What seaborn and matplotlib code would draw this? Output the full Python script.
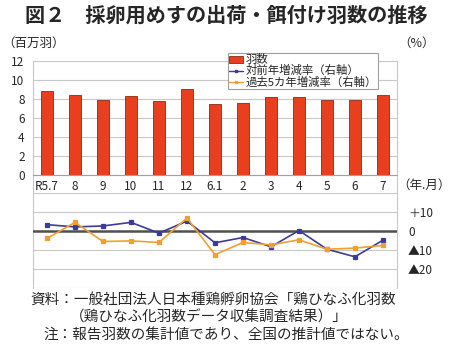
import seaborn as sns
import matplotlib.pyplot as plt
from matplotlib.lines import Line2D
from matplotlib.patches import Patch
import pandas as pd
import numpy as np

# データ
months = ["R5.7", "8", "9", "10", "11", "12", "6.1", "2", "3", "4", "5", "6", "7"]
birds = [8.85, 8.4, 7.9, 8.35, 7.8, 9.0, 7.45, 7.55, 8.2, 8.15, 7.9, 7.9, 8.4]
yoy = [3.5, 2.3, 2.8, 4.7, -1.0, 5.4, -6.1, -3.3, -8.2, 0.4, -9.5, -13.5, -4.7]
avg5 = [-3.8, 4.7, -5.4, -5.1, -5.9, 7.0, -12.4, -5.9, -7.2, -4.5, -9.5, -8.9, -7.5]

sns.set_style("white")
plt.rcParams["font.family"] = ["Noto Sans CJK JP", "DejaVu Sans"]

bar_c = "#E8401E"
blue_c = "#3C3C96"
orange_c = "#F0A030"
grid_c = "#C8C8C8"

df = pd.DataFrame({"month": months, "birds": birds, "yoy": yoy, "avg5": avg5})

fig = plt.figure(figsize=(4.5, 3.58), dpi=100)
ax = fig.add_axes([0.0733, 0.1955, 0.8089, 0.634])

sns.barplot(data=df, x="month", y="birds", color=bar_c, width=0.43,
            edgecolor="#8B2A1A", linewidth=0.6, saturation=1, ax=ax, zorder=2)
ax.set_ylim(-12, 12)
ax.set_yticks(range(-12, 13, 2))
ax.set_yticklabels([str(v) if v >= 0 else "" for v in range(-12, 13, 2)], fontsize=8.5)
ax.tick_params(axis="y", length=0, pad=6)
ax.grid(axis="y", color=grid_c, lw=0.8, zorder=0)
ax.set_axisbelow(True)
ax.set_xlabel("")
ax.set_ylabel("")

# カテゴリ軸を 0 の位置へ
ax.spines["bottom"].set_position(("data", 0))
ax.spines["bottom"].set_color("#A0A0A0")
for s in ["left", "right", "top"]:
    ax.spines[s].set_color(grid_c)
ax.tick_params(axis="x", length=0, pad=4, labelsize=8.5)
ax.set_xticks(np.arange(-0.5, len(months), 1), minor=True)
ax.tick_params(axis="x", which="minor", length=3, color="#A0A0A0")

# 右軸：増減率
ax2 = ax.twinx()
sns.pointplot(data=df, x="month", y="yoy", color=blue_c, markers="s",
              markersize=2.2, linewidth=1.2, ax=ax2)
sns.pointplot(data=df, x="month", y="avg5", color=orange_c, markers="s",
              markersize=2.2, linewidth=1.2, ax=ax2)
ax2.axhline(0, color="#505050", lw=1.8, zorder=1)
ax2.set_ylim(-30, 90)
ax2.set_yticks([-20, -10, 0, 10])
ax2.set_yticklabels(["▲20", "▲10", "0", "＋10"], fontsize=8.5)
ax2.tick_params(axis="y", length=0, pad=8)
ax2.set_ylabel("")
ax2.set_xlabel("")
for s in ax2.spines.values():
    s.set_visible(False)
ax.set_xlim(-0.5, len(months) - 0.5)

handles = [
    Patch(facecolor=bar_c, edgecolor="#8B2A1A", lw=0.6),
    Line2D([0], [0], color=blue_c, lw=1, marker="s", markersize=2),
    Line2D([0], [0], color=orange_c, lw=1, marker="s", markersize=2),
]
leg = ax2.legend(handles, ["羽数", "対前年増減率（右軸）", "過去5カ年増減率（右軸）"],
                 loc="upper left", bbox_to_anchor=(0.507, 0.852),
                 bbox_transform=fig.transFigure, fontsize=8.2, frameon=True,
                 fancybox=False, edgecolor="#A0A0A0", framealpha=1,
                 borderpad=0.1, labelspacing=0.0, handlelength=1.2,
                 handleheight=0.6, handletextpad=0.2, borderaxespad=0)
leg.get_frame().set_linewidth(0.8)

fig.text(0.502, 0.957, "図２　採卵用めすの出荷・餌付け羽数の推移",
         ha="center", va="center", fontsize=14.5, fontweight="bold")
fig.text(0.005, 0.878, "（百万羽）", ha="left", va="center", fontsize=9)
fig.text(0.885, 0.878, "（%）", ha="left", va="center", fontsize=9)
fig.text(0.882, 0.483, "（年.月）", ha="left", va="center", fontsize=9)

fig.text(0.067, 0.162, "資料：一般社団法人日本種鶏孵卵協会「鶏ひなふ化羽数",
         ha="left", va="center", fontsize=10.5)
fig.text(0.155, 0.112, "（鶏ひなふ化羽数データ収集調査結果）」",
         ha="left", va="center", fontsize=10.5)
fig.text(0.096, 0.064, "注：報告羽数の集計値であり、全国の推計値ではない。",
         ha="left", va="center", fontsize=10.5)

fig.savefig("out.png", dpi=100)
